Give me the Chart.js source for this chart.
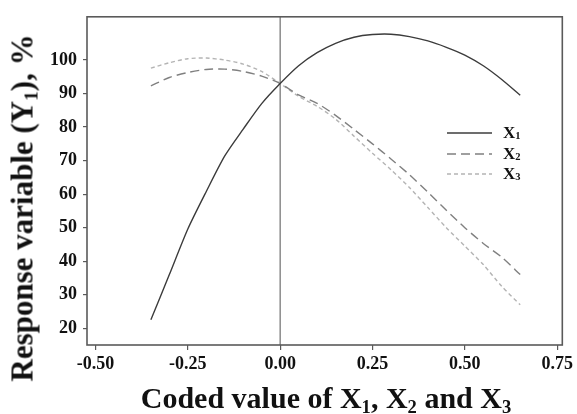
<!DOCTYPE html>
<html>
<head>
<meta charset="utf-8">
<script src="https://cdn.jsdelivr.net/npm/chart.js@4.4.1/dist/chart.umd.min.js"></script>
<style>
  body { margin: 0; background: #fff; }
  #wrap { position: relative; width: 577px; height: 414px; font-family: "Liberation Serif", "Times New Roman", serif; font-weight: bold; color: #111; }
  #wrap canvas { position: absolute; left: 0; top: 0; }
  .ytitle { position: absolute; left: 22px; top: 208px; transform: translate(-50%, -50%) rotate(-90deg); white-space: nowrap; font-size: 31px; line-height: 1; }
  .xtitle { position: absolute; left: 326px; top: 398px; transform: translate(-50%, -50%); white-space: nowrap; font-size: 30px; line-height: 1; }
  sub { font-size: 62%; vertical-align: baseline; position: relative; top: 0.28em; }
  .legend { position: absolute; left: 447px; top: 123px; font-size: 17px; }
  .legend div { height: 20.5px; line-height: 20px; display: flex; align-items: center; }
  .legend svg { width: 45px; height: 10px; margin-right: 11px; }
</style>
</head>
<body>
<div id="wrap">
  <canvas id="cvs" width="577" height="414"></canvas>
  <div class="ytitle">Response variable (Y<sub>1</sub>), %</div>
  <div class="xtitle">Coded value of X<sub>1</sub>, X<sub>2</sub> and X<sub>3</sub></div>
  <div class="legend">
    <div><svg><line x1="0" y1="5" x2="45" y2="5" stroke="#3c3c3c" stroke-width="1.4"/></svg>X<sub>1</sub></div>
    <div><svg><line x1="0" y1="5" x2="45" y2="5" stroke="#808080" stroke-width="1.4" stroke-dasharray="9 5"/></svg>X<sub>2</sub></div>
    <div><svg><line x1="0" y1="5" x2="45" y2="5" stroke="#b4b4b4" stroke-width="1.4" stroke-dasharray="4 3"/></svg>X<sub>3</sub></div>
  </div>
</div>
<script>
// 코드값 (x축)
const xValues = [-0.35, -0.30, -0.25, -0.20, -0.15, -0.10, -0.05, 0.00, 0.05, 0.10, 0.15,
                 0.20, 0.25, 0.30, 0.35, 0.40, 0.45, 0.50, 0.55, 0.60, 0.65];
const seriesX1 = [22.5, 36, 49.6, 60.8, 71.4, 79.4, 87, 93, 98.3, 102.2, 105,
                  106.8, 107.6, 107.7, 107, 105.7, 103.8, 101.5, 98.3, 94.2, 89.5];
const seriesX2 = [92.3, 94.8, 96.3, 97.2, 97.3, 96.6, 95.2, 93, 89.6, 87.1, 83.5,
                  79.3, 75, 70.5, 65.8, 60.6, 55.2, 50, 45.3, 41.2, 36];
const seriesX3 = [97.6, 99.2, 100.4, 100.6, 100, 98.8, 96.6, 93, 89.2, 86.2, 82.4,
                  77.3, 72.2, 67.3, 62, 56, 50, 44.5, 39, 32.5, 27];
const xTicks = [-0.50, -0.25, 0.00, 0.25, 0.50, 0.75];
const yTicks = [20, 30, 40, 50, 60, 70, 80, 90, 100];

const pts = ys => ys.map((y, i) => ({ x: xValues[i], y }));
const tickFont = { family: 'Liberation Serif', weight: 'bold', size: 18 };

// 테두리 + x=0 세로선
const framePlugin = {
  id: 'frame',
  beforeDatasetsDraw(chart) {
    const { ctx, chartArea: a, scales } = chart;
    const x0 = scales.x.getPixelForValue(0);
    ctx.save();
    ctx.strokeStyle = '#6e6e6e';
    ctx.lineWidth = 1.2;
    ctx.beginPath();
    ctx.moveTo(x0, a.top);
    ctx.lineTo(x0, a.bottom);
    ctx.stroke();
    ctx.restore();
  },
  afterDraw(chart) {
    const { ctx, chartArea: a } = chart;
    ctx.save();
    ctx.strokeStyle = '#5a5a5a';
    ctx.lineWidth = 1.6;
    ctx.strokeRect(a.left, a.top, a.right - a.left, a.bottom - a.top);
    ctx.restore();
  }
};

new Chart(document.getElementById('cvs').getContext('2d'), {
  type: 'line',
  data: {
    datasets: [
      { label: 'X1', data: pts(seriesX1), borderColor: '#3c3c3c', borderWidth: 1.4, tension: 0.25 },
      { label: 'X2', data: pts(seriesX2), borderColor: '#808080', borderWidth: 1.4, borderDash: [9, 5], tension: 0.25 },
      { label: 'X3', data: pts(seriesX3), borderColor: '#b4b4b4', borderWidth: 1.4, borderDash: [4, 3], tension: 0.25 }
    ]
  },
  options: {
    responsive: false,
    animation: false,
    devicePixelRatio: 1,
    elements: { point: { radius: 0 } },
    layout: { padding: { left: 0, top: 12, right: 10, bottom: 0 } },
    plugins: { legend: { display: false }, tooltip: { enabled: false } },
    scales: {
      x: {
        type: 'linear',
        min: -0.523, max: 0.764,
        afterBuildTicks: s => { s.ticks = xTicks.map(v => ({ value: v })); },
        afterFit: s => { s.height = 69; },
        grid: { drawOnChartArea: false, drawTicks: true, tickLength: 5, color: '#5a5a5a', lineWidth: 1.2 },
        border: { display: false },
        ticks: { font: tickFont, color: '#111', padding: 4, maxRotation: 0, callback: v => v.toFixed(2) }
      },
      y: {
        min: 15, max: 112.9,
        afterBuildTicks: s => { s.ticks = yTicks.map(v => ({ value: v })); },
        afterFit: s => { s.width = 87; },
        grid: { drawOnChartArea: false, drawTicks: true, tickLength: 4, color: '#5a5a5a', lineWidth: 1.2 },
        border: { display: false },
        ticks: { font: tickFont, color: '#111', padding: 6, callback: v => String(v) }
      }
    }
  },
  plugins: [framePlugin]
});
</script>
</body>
</html>
